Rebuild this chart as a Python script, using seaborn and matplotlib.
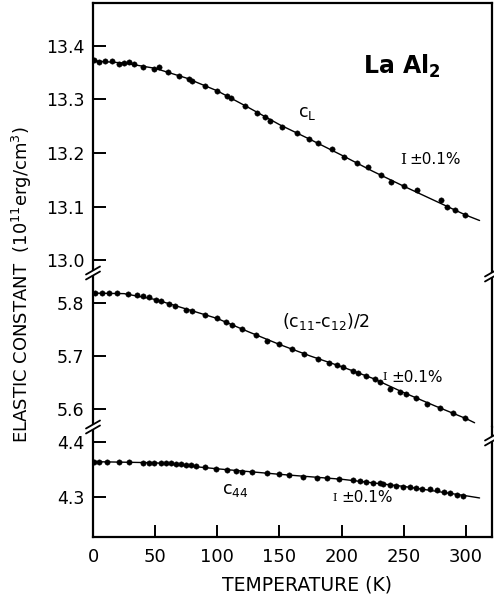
import numpy as np
import pandas as pd
import matplotlib
matplotlib.use("Agg")
import matplotlib.pyplot as plt
import seaborn as sns

# ---------------- data ----------------
# c_L data points
cl_T = [1, 5, 10, 15, 21, 25, 29, 33, 40, 49, 53, 60, 69, 77, 80, 90, 100, 108,
        111, 122, 132, 138, 142, 152, 164, 174, 181, 192, 202, 212, 221, 232,
        240, 250, 261, 280, 285, 291, 299]
cl_V = [13.373, 13.370, 13.371, 13.372, 13.366, 13.368, 13.369, 13.367, 13.360,
        13.356, 13.361, 13.351, 13.344, 13.338, 13.335, 13.325, 13.316, 13.306,
        13.303, 13.288, 13.275, 13.267, 13.260, 13.249, 13.237, 13.226, 13.219,
        13.207, 13.193, 13.181, 13.174, 13.159, 13.146, 13.138, 13.131, 13.112,
        13.099, 13.093, 13.085]
# c_L fitted curve
cl_line_T = [0, 25, 50, 75, 100, 125, 150, 175, 200, 225, 250, 275, 300, 311]
cl_line_V = [13.372, 13.368, 13.358, 13.340, 13.316, 13.285, 13.253, 13.225,
             13.196, 13.166, 13.138, 13.111, 13.084, 13.074]

# (c11-c12)/2 data points
cs_T = [2, 7, 13, 19, 28, 35, 40, 45, 51, 55, 61, 66, 75, 80, 90, 100, 107, 112,
        120, 131, 140, 150, 160, 170, 181, 190, 196, 201, 209, 213, 220, 227,
        231, 239, 247, 252, 260, 269, 279, 290, 299]
cs_V = [5.819, 5.819, 5.819, 5.819, 5.817, 5.815, 5.813, 5.812, 5.806, 5.804,
        5.798, 5.794, 5.788, 5.786, 5.777, 5.772, 5.765, 5.758, 5.751, 5.740,
        5.729, 5.722, 5.714, 5.704, 5.694, 5.687, 5.684, 5.679, 5.672, 5.668,
        5.662, 5.656, 5.651, 5.638, 5.632, 5.629, 5.620, 5.609, 5.601, 5.592,
        5.583]
cs_line_T = [0, 25, 50, 75, 100, 125, 150, 175, 200, 225, 250, 275, 300, 307]
cs_line_V = [5.819, 5.818, 5.807, 5.789, 5.771, 5.746, 5.722, 5.700, 5.680,
             5.658, 5.631, 5.606, 5.582, 5.574]

# c44 data points
c44_T = [1, 5, 11, 21, 29, 40, 45, 49, 55, 59, 63, 67, 71, 75, 79, 83, 90, 99,
         108, 115, 120, 128, 140, 150, 158, 169, 180, 188, 198, 209, 215, 220,
         225, 231, 233, 239, 244, 249, 255, 260, 265, 271, 277, 282, 287, 293, 298]
c44_V = [4.364, 4.364, 4.364, 4.364, 4.364, 4.362, 4.362, 4.362, 4.362, 4.361,
         4.361, 4.360, 4.359, 4.358, 4.357, 4.356, 4.354, 4.351, 4.348, 4.347,
         4.346, 4.345, 4.343, 4.341, 4.340, 4.337, 4.335, 4.334, 4.332, 4.330,
         4.328, 4.327, 4.326, 4.325, 4.324, 4.321, 4.320, 4.318, 4.317, 4.316,
         4.315, 4.314, 4.312, 4.309, 4.307, 4.304, 4.302]
c44_line_T = [0, 50, 100, 150, 200, 250, 300, 311]
c44_line_V = [4.364, 4.362, 4.351, 4.341, 4.332, 4.319, 4.302, 4.298]

x_ticks = [0, 50, 100, 150, 200, 250, 300]
top_ticks = [13.0, 13.1, 13.2, 13.3, 13.4]
mid_ticks = [5.6, 5.7, 5.8]
bot_ticks = [4.3, 4.4]

# ---------------- figure ----------------
sns.set_style("ticks")
plt.rcParams['font.family'] = ['DejaVu Sans']
plt.rcParams['mathtext.fontset'] = 'dejavusans'
for k in ("text.color", "axes.labelcolor", "xtick.color", "ytick.color",
          "axes.edgecolor"):
    plt.rcParams[k] = "black"

W, H = 494, 597
fig = plt.figure(figsize=(W / 100, H / 100), dpi=100)

def frac_rect(top_px, bot_px):
    left = 93 / W
    width = (492 - 93) / W
    return [left, 1 - bot_px / H, width, (bot_px - top_px) / H]

ax_t = fig.add_axes(frac_rect(3, 273))
ax_m = fig.add_axes(frac_rect(273, 427))
ax_b = fig.add_axes(frac_rect(427, 537))

panels = [
    (ax_t, cl_T, cl_V, cl_line_T, cl_line_V, (12.976, 13.480), top_ticks),
    (ax_m, cs_T, cs_V, cs_line_T, cs_line_V, (5.566, 5.857), mid_ticks),
    (ax_b, c44_T, c44_V, c44_line_T, c44_line_V, (4.227, 4.427), bot_ticks),
]

for ax, T, V, LT, LV, ylim, yt in panels:
    sns.lineplot(x=LT, y=LV, ax=ax, color="black", linewidth=1.0, sort=True)
    sns.scatterplot(x=T, y=V, ax=ax, color="black", s=15, edgecolor="black",
                    linewidth=0.3, zorder=3)
    ax.set_xlim(0, 321)
    ax.set_ylim(*ylim)
    ax.set_yticks(yt)
    ax.set_yticklabels([f"{v:.1f}" for v in yt])
    ax.tick_params(axis="y", direction="in", length=9, width=1.4,
                   labelsize=12.5, pad=6, colors="black")
    ax.set_xlabel("")
    ax.set_ylabel("")
    for sp in ax.spines.values():
        sp.set_linewidth(1.6)
        sp.set_color("black")

for ax in (ax_t, ax_m):
    ax.spines["bottom"].set_visible(False)
    ax.set_xticks([])
for ax in (ax_m, ax_b):
    ax.spines["top"].set_visible(False)

ax_b.set_xticks(x_ticks)
ax_b.set_xticklabels([str(v) for v in x_ticks])
ax_b.tick_params(axis="x", direction="in", length=9, width=1.4,
                 labelsize=13, pad=8, colors="black")
ax_b.set_xlabel("TEMPERATURE (K)", fontsize=13.5, labelpad=4, color="black")
ax_b.xaxis.set_label_coords((307 - 93) / (492 - 93), -0.35)

fig.text(22 / W, 1 - 285 / H,
         r"ELASTIC CONSTANT  (10$^{11}$erg/cm$^{3}$)",
         rotation=90, ha="center", va="center", fontsize=13, color="black")

# axis-break marks
def brk(xpx, ypx):
    xf, yf = xpx / W, 1 - ypx / H
    fig.patches.append(plt.Rectangle((xf - 3 / W, yf - 2 / H), 6 / W, 4 / H,
                                     transform=fig.transFigure,
                                     facecolor="white", edgecolor="none",
                                     zorder=5))
    for off in (-2.5, 2.5):
        fig.lines.append(plt.Line2D([xf - 7 / W, xf + 7 / W],
                                    [yf + (off - 4) / H, yf + (off + 4) / H],
                                    color="black", lw=1.3, zorder=6,
                                    transform=fig.transFigure))

for ypx in (273, 427):
    brk(93, ypx)
brk(492, 275)
brk(492, 439)

# annotations
fig.text(402 / W, 1 - 66 / H, r"La Al$_\mathbf{2}$", fontsize=17,
         fontweight="bold", ha="center", va="center")
fig.text(307 / W, 1 - 113 / H, r"c$_\mathrm{L}$", fontsize=12.5,
         ha="center", va="center")
fig.text(307 / W, 1 - 113 / H, "", fontsize=1)

def errnote(x_i, x_t, y, isize):
    fig.text(x_i / W, 1 - y / H, "I", fontsize=isize, family="DejaVu Serif",
             ha="center", va="center")
    fig.text(x_t / W, 1 - y / H, "±0.1%", fontsize=11, ha="left",
             va="center")

errnote(403, 409, 160, 11)
errnote(385, 391, 377, 8)
errnote(335, 341, 498, 8)

fig.text(326 / W, 1 - 321 / H, r"(c$_{11}$-c$_{12}$)/2", fontsize=12.5,
         ha="center", va="center")
fig.text(235 / W, 1 - 490 / H, r"c$_{44}$", fontsize=12.5,
         ha="center", va="center")

fig.savefig("out.png", dpi=100)
